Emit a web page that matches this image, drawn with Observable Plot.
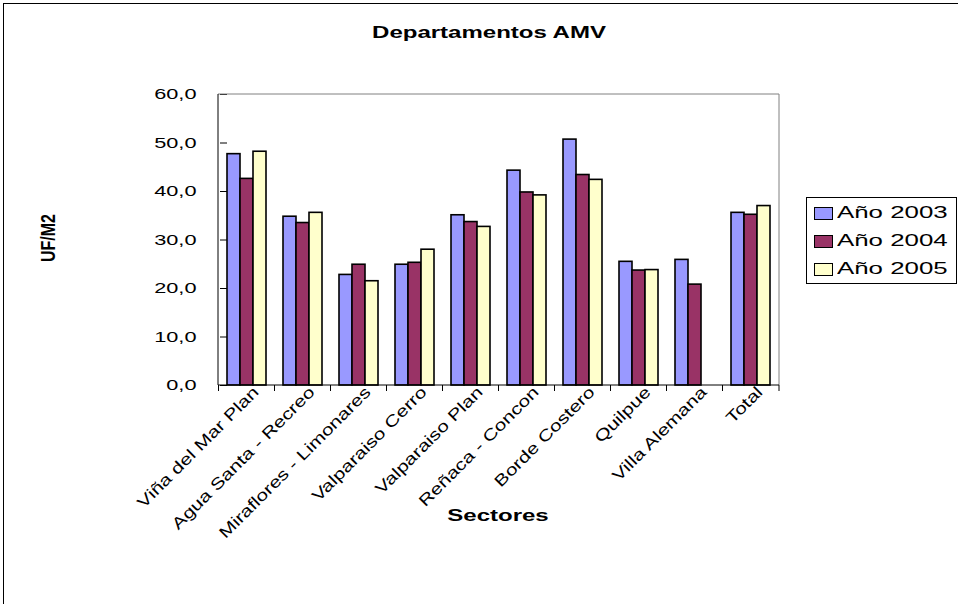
<!DOCTYPE html>
<html><head><meta charset="utf-8">
<script src="https://cdn.jsdelivr.net/npm/d3@7"></script>
<script src="https://cdn.jsdelivr.net/npm/@observablehq/plot@0.6"></script>
<style>
body{margin:0;background:#fff;font-family:"Liberation Sans",Arial,sans-serif;color:#000;}
#wrap{position:relative;width:958px;height:604px;overflow:hidden;background:#fff;}
#chart{position:absolute;left:0;top:0;}
#border{position:absolute;left:3px;top:3px;right:-5px;bottom:-5px;border-top:1px solid #000;border-left:1px solid #000;}
.ct{position:absolute;white-space:nowrap;transform:translate(-50%,-50%) scaleX(1.5);}
#legend{position:absolute;left:806px;top:197px;width:149px;height:85px;border:1px solid #000;background:#fff;}
.li{position:absolute;left:0;height:20px;width:149px;}
.sw{position:absolute;left:7px;top:4px;width:17px;height:11px;border:1px solid #000;}
.lt{position:absolute;left:30px;top:0;font-size:17px;line-height:20px;white-space:nowrap;transform-origin:left center;transform:scaleX(1.52);}
</style></head><body>
<div id="wrap">
<div id="chart"></div>
<div id="border"></div>
<div class="ct" style="left:489px;top:33px;font-size:16px;font-weight:bold;">Departamentos AMV</div>
<div class="ct" style="left:498px;top:516px;font-size:16px;font-weight:bold;">Sectores</div>
<div class="ct" style="left:48px;top:238px;font-size:16px;font-weight:bold;transform:translate(-50%,-50%) rotate(-90deg) scaleY(1.3);">UF/M2</div>
<div id="legend"></div>
</div>
<script>
const sectores = ["Viña del Mar Plan", "Agua Santa - Recreo", "Miraflores - Limonares", "Valparaiso Cerro", "Valparaiso Plan", "Reñaca - Concon", "Borde Costero", "Quilpue", "Villa Alemana", "Total"];
const series = ["Año 2003", "Año 2004", "Año 2005"];
const ano2003 = [47.7, 34.8, 22.8, 24.9, 35.1, 44.3, 50.7, 25.5, 25.9, 35.6];
const ano2004 = [42.6, 33.5, 24.9, 25.3, 33.7, 39.8, 43.4, 23.7, 20.8, 35.2];
const ano2005 = [48.2, 35.6, 21.5, 28.0, 32.7, 39.2, 42.4, 23.8, null, 37.0];
const colores = ["#9999FF", "#993366", "#FFFFCC"];
const yTicks = [0, 10, 20, 30, 40, 50, 60];

const valores = [ano2003, ano2004, ano2005];
const data = sectores.flatMap((s, i) => series.map((k, j) => ({sector: s, serie: k, valor: valores[j][i]})))
  .filter(d => d.valor != null);

const plot = Plot.plot({
  width: 958, height: 604,
  marginLeft: 218, marginRight: 179, marginTop: 94, marginBottom: 219,
  style: {fontFamily: '"Liberation Sans", Arial, sans-serif', fontSize: "15px", color: "#000", background: "transparent"},
  fx: {domain: sectores, paddingInner: 0.3, paddingOuter: 0.15, label: null, axis: "bottom", tickSize: 0, tickPadding: 4, tickRotate: -45},
  x: {domain: series, padding: 0, axis: null},
  y: {domain: [0, 60], ticks: yTicks, tickSize: 7, tickPadding: 24, label: null,
      tickFormat: d => d.toFixed(1).replace(".", ",")},
  color: {domain: series, range: colores},
  marks: [
    Plot.barY(data, {fx: "sector", x: "serie", y: "valor", fill: "serie", stroke: "#000", strokeWidth: 1.6})
  ]
});
document.getElementById("chart").appendChild(plot);

// stretch texts like the reference rendering
const svg = d3.select(plot);
svg.selectAll('g[aria-label="y-axis tick label"] text').each(function() {
  const t = this.getAttribute("transform") || "";
  this.setAttribute("transform", t + " scale(1.45,1)");
});
svg.selectAll('g[aria-label="fx-axis tick label"] text').each(function() {
  const t = this.getAttribute("transform") || "";
  this.setAttribute("transform", "translate(9,0) " + t + " scale(1.3,1)");
  this.style.fontSize = "16px";
});

// frame, axis lines and category boundary ticks from the library's scales
const fx = plot.scale("fx"), y = plot.scale("y");
const [xa, xb] = fx.range, [yb, yt] = y.range;
const g = svg.append("g").attr("fill", "none");
g.append("line").attr("x1", xa).attr("x2", xb).attr("y1", yt).attr("y2", yt).attr("stroke", "#808080");
g.append("line").attr("x1", xb).attr("x2", xb).attr("y1", yt).attr("y2", yb).attr("stroke", "#808080");
g.append("line").attr("x1", xa).attr("x2", xa).attr("y1", yt).attr("y2", yb).attr("stroke", "#000");
g.append("line").attr("x1", xa).attr("x2", xb).attr("y1", yb).attr("y2", yb).attr("stroke", "#000");
const gap = (fx.step - fx.bandwidth) / 2;
const bounds = sectores.map(s => fx.apply(s) - gap).concat([xb]);
g.selectAll("line.bt").data(bounds).join("line").attr("class", "bt")
  .attr("x1", d => d).attr("x2", d => d).attr("y1", yb).attr("y2", yb + 6).attr("stroke", "#000");

// legend
const leg = d3.select("#legend");
series.forEach((s, i) => {
  const it = leg.append("div").attr("class", "li").style("top", (5 + i * 28) + "px");
  it.append("div").attr("class", "sw").style("background", colores[i]);
  it.append("div").attr("class", "lt").text(s);
});
</script>
</body></html>
